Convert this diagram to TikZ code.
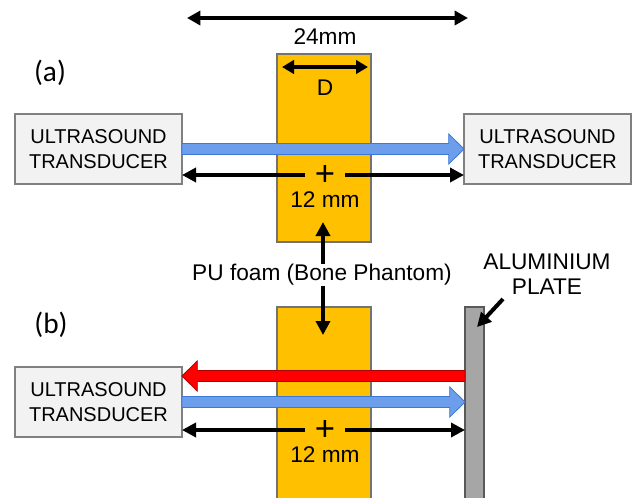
\documentclass[tikz,border=0pt]{standalone}
\usepackage{fontspec}
\setmainfont{Liberation Sans}
\newfontfamily\labfont{Carlito}
\usetikzlibrary{arrows.meta,calc,positioning}

\definecolor{foamcol}{HTML}{FFC000}
\definecolor{boxcol}{HTML}{F2F2F2}
\definecolor{beamcol}{HTML}{6D9EEB}
\definecolor{beamline}{HTML}{3C78D8}
\definecolor{echocol}{HTML}{FF0000}
\definecolor{echoline}{HTML}{B00000}
\definecolor{platecol}{HTML}{A6A6A6}

% block arrow from #2 to the tip #3
\newcommand\blockarrow[3][]{%
	\coordinate (ba1) at (#2); \coordinate (ba2) at (#3);
	\coordinate (bah) at ($(ba2)!11.5pt!(ba1)$);
	\draw[#1] ($(ba1)!4.1pt!90:(ba2)$) -- ($(bah)!4.1pt!90:(ba2)$)
		-- ($(bah)!11.4pt!90:(ba2)$) -- (ba2) -- ($(bah)!11.4pt!-90:(ba2)$)
		-- ($(bah)!4.1pt!-90:(ba2)$) -- ($(ba1)!4.1pt!-90:(ba2)$) -- cycle;
}

\begin{document}
\begin{tikzpicture}[x=0.75pt, y=-0.75pt,
		txt/.style={font=\fontsize{17}{19}\selectfont, inner sep=0pt},
		part/.style={font=\labfont\fontsize{22}{22}\selectfont, inner sep=0pt},
		transducer/.style={draw=black!50, fill=boxcol, line width=0.8pt, outer sep=0pt,
			minimum width=125.25pt, minimum height=52.5pt, align=center,
			font=\fontsize{15}{19}\selectfont},
		foam/.style={draw=black!55, fill=foamcol, line width=0.8pt},
		dimarrow/.style={line width=3pt, -{Triangle[length=10.5pt,width=10.5pt]}},
		plus/.style={font=\fontsize{26}{26}\selectfont, minimum width=30pt, inner sep=0pt, outer sep=0pt},
		beam/.style={fill=beamcol, draw=beamline, line width=0.6pt},
		echo/.style={fill=echocol, draw=echoline, line width=0.6pt}]
		\clip (0,0) rectangle (636,497);
		\useasboundingbox (0,0) rectangle (636,497);
		% foam samples and plate
		\draw[foam] (277,54) rectangle (371,242);
		\draw[foam] (277,307) rectangle (371,520);
		\draw[draw=black!65, fill=platecol, line width=0.8pt] (465,307) rectangle (484,520);
		\coordinate (plate) at (465,402);
		% top dimension
		\coordinate (topL) at (187,18);
		\coordinate (topR) at (468,18);
		\draw[line width=3pt, {Triangle[length=10pt,width=10.5pt]}-{Triangle[length=10pt,width=10.5pt]}] (topL) -- (topR);
		\node[txt] (dim24) at (325,37) {24mm};
		% (a) transmission
		\node[part] (labA) at (50,73) {(a)};
		\coordinate (dL) at (282,67);
		\coordinate (dR) at (368,67);
		\draw[line width=3pt, {Triangle[length=9pt,width=10pt]}-{Triangle[length=9pt,width=10pt]}] (dL) -- (dR);
		\node[txt] (dimD) at (325,88) {D};
		\node[transducer] (tlA) at (98.5,149) {ULTRASOUND\\TRANSDUCER};
		\node[transducer] (trA) at (547.5,149) {ULTRASOUND\\TRANSDUCER};
		\blockarrow[beam]{tlA.east}{trA.west}
		\node[plus] (plusA) at (325,175) {+};
		\draw[dimarrow] (plusA.west) -- (plusA.west -| tlA.east);
		\draw[dimarrow] (plusA.east) -- (plusA.east -| trA.west);
		\node[txt] (dim12A) at (325,200) {12 mm};
		% foam label
		\node[txt] (pu) at (322,275) {PU foam (Bone Phantom)};
		\coordinate (upTip) at (323,222);
		\coordinate (downTip) at (323,335);
		\draw[dimarrow] (pu.north -| upTip) -- (upTip);
		\draw[dimarrow] (pu.south -| downTip) -- (downTip);
		% (b) pulse-echo
		\node[part] (labB) at (51,325) {(b)};
		\node[txt, align=center] (alu) at (547,274) {ALUMINIUM\\PLATE};
		\coordinate (alS) at (503,299);
		\coordinate (alTip) at (477,327);
		\draw[dimarrow] (alS) -- (alTip);
		\node[transducer] (tlB) at (98.5,402) {ULTRASOUND\\TRANSDUCER};
		\coordinate (echoS) at ($(tlB.east)+(0,-26)$);
		\blockarrow[echo]{echoS -| plate}{echoS}
		\blockarrow[beam]{tlB.east}{tlB.east -| plate}
		\node[plus] (plusB) at (325,430) {+};
		\draw[dimarrow] (plusB.west) -- (plusB.west -| tlB.east);
		\draw[dimarrow] (plusB.east) -- (plusB.east -| plate);
		\node[txt] (dim12B) at (325,455) {12 mm};
	\end{tikzpicture}
\end{document}
